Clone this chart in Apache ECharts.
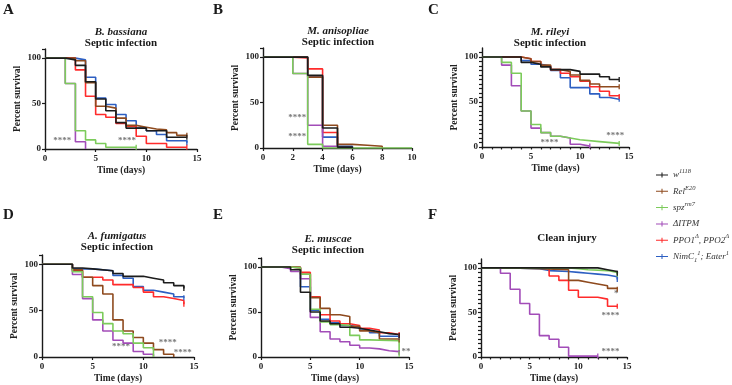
<!DOCTYPE html>
<html><head><meta charset="utf-8">
<script src="https://cdn.jsdelivr.net/npm/echarts@6/dist/echarts.min.js"></script>
<style>html,body{margin:0;padding:0;background:#fff}#c{width:732px;height:385px}</style>
</head><body><div id="c"></div>
<script>
// ---------- legend / series names ----------
const seriesNames = ['w1118', 'RelE20', 'spzrm7', 'ΔITPM', 'PPO1Δ, PPO2Δ', 'NimC1; Eater1'];
const seriesColors = ['#1c1c1c', '#8E4A1E', '#7CCB5B', '#A24CB8', '#FF2B2B', '#2D5FC2'];
const legendLabels = ['{i|w}{sup|1118}', '{i|Rel}{sup|E20}', '{i|spz}{sup|rm7}', '{i|ΔITPM}',
  '{i|PPO1}{sup|Δ}{i|, PPO2}{sup|Δ}', '{i|NimC}{sub|1}{sup|1}{i|; Eater}{sup|1}'];

// ---------- panel titles ----------
const panelLetters = ['A', 'B', 'C', 'D', 'E', 'F'];
const panelSpecies = ['B. bassiana', 'M. anisopliae', 'M. rileyi', 'A. fumigatus', 'E. muscae', ''];
const panelSubtitles = ['Septic infection', 'Septic infection', 'Septic infection', 'Septic infection', 'Septic infection', 'Clean injury'];
const xTickLabelsWide = [0, 5, 10, 15];
const xTickLabelsB = [0, 2, 4, 6, 8, 10];
const yTickLabels = [0, 50, 100];

// ---------- survival data: [day, percent survival] ----------
// A: B. bassiana
const A_w1118 = [[0,100],[2,98],[3,92],[4,74],[5,55],[6,42],[7,29],[8,23],[10,20],[12,13],[14,13]];
const A_rel   = [[0,100],[3,97],[4,73],[5,47],[6,45],[7,34],[8,26],[9,24],[10,22],[11,21],[12,18],[13,15],[14,15]];
const A_spz   = [[0,100],[2,72],[3,20],[4,10],[5,6],[6,2],[9,2]];
const A_itpm  = [[0,100],[2,72],[3,8],[4,0]];
const A_ppo   = [[0,100],[3,87],[4,58],[5,38],[6,35],[7,28],[8,25],[9,14],[10,6],[12,2],[14,2]];
const A_nimc  = [[0,100],[3,98],[4,79],[5,56],[6,49],[7,38],[8,31],[9,23],[10,20],[11,16],[12,9],[14,7]];
// B: M. anisopliae
const B_w1118 = [[0,100],[3,80],[4,22],[5,1],[6,0]];
const B_rel   = [[0,100],[3,78],[4,25],[5,4],[6,3],[7,2],[8,0]];
const B_spz   = [[0,100],[2,82],[3,4],[4,0],[10,0]];
const B_itpm  = [[0,100],[2,82],[3,25],[4,2],[5,0]];
const B_ppo   = [[0,100],[2,99],[3,87],[4,17],[5,0]];
const B_nimc  = [[0,100],[3,79],[4,12],[5,2],[6,0]];
// C: M. rileyi
const C_w1118 = [[0,100],[4,94],[5,92],[6,89],[7,86],[9,84],[10,81],[12,78],[13,75],[14,75]];
const C_rel   = [[0,100],[4,98],[5,95],[6,91],[7,86],[8,84],[9,80],[10,74],[11,70],[12,67],[14,67]];
const C_spz   = [[0,100],[2,94],[3,82],[4,40],[5,25],[6,16],[7,12],[8,10],[9,8],[10,6],[12,4],[14,4]];
const C_itpm  = [[0,100],[2,91],[3,68],[4,40],[5,21],[6,16],[7,12],[8,10],[9,3],[10,1],[11,1]];
const C_ppo   = [[0,100],[4,98],[5,95],[6,90],[7,86],[8,82],[9,78],[10,73],[11,67],[12,62],[13,57],[14,56]];
const C_nimc  = [[0,100],[4,96],[5,92],[6,90],[7,85],[8,77],[9,66],[11,59],[12,55],[13,53],[14,53]];
// D: A. fumigatus
const D_w1118 = [[0,100],[3,96],[4,95],[5,93],[7,90],[8,87],[10,85],[11,83],[12,80],[13,77],[14,74]];
const D_rel   = [[0,100],[3,94],[4,86],[5,77],[6,68],[7,40],[8,28],[9,21],[10,15],[11,8],[12,3],[13,0]];
const D_spz   = [[0,100],[3,92],[4,65],[5,48],[6,36],[7,28],[8,25],[9,15],[10,10],[11,0]];
const D_itpm  = [[0,100],[3,89],[4,63],[5,40],[6,28],[7,18],[8,15],[9,6],[10,3],[11,0]];
const D_ppo   = [[0,100],[3,93],[4,86],[6,83],[7,78],[9,75],[10,70],[11,65],[12,63],[13,61],[14,57]];
const D_nimc  = [[0,100],[3,95],[5,93],[7,88],[8,85],[9,76],[10,72],[11,70],[12,68],[13,65],[14,64]];
// E: E. muscae
const E_w1118 = [[0,100],[3,97],[4,72],[5,50],[6,40],[7,37],[8,33],[9,32],[10,30],[11,28],[12,26],[13,25],[14,24]];
const E_rel   = [[0,100],[4,92],[5,66],[6,54],[7,47],[8,45],[9,34],[10,29],[11,27],[12,20],[14,19]];
const E_spz   = [[0,100],[3,99],[4,92],[5,53],[6,39],[7,36],[8,35],[9,24],[10,19],[11,18],[14,3]];
const E_itpm  = [[0,100],[2,98],[3,95],[4,87],[5,44],[6,28],[7,20],[8,17],[9,13],[10,10],[11,9],[12,7],[13,6],[14,5]];
const E_ppo   = [[0,100],[3,99],[4,94],[5,67],[6,47],[7,40],[8,37],[9,35],[10,32],[11,30],[12,27],[13,25],[14,25]];
const E_nimc  = [[0,100],[3,99],[4,78],[5,52],[6,42],[7,38],[8,35],[9,33],[10,30],[11,27],[12,23],[14,22]];
// F: clean injury
const F_w1118 = [[0,100],[12,98],[13,96],[14,94]];
const F_rel   = [[0,100],[3,99],[6,98],[9,86],[10,84],[11,82],[12,80],[13,77],[14,76]];
const F_spz   = [[0,100],[9,99],[10,98],[11,97],[13,95],[14,93]];
const F_itpm  = [[0,100],[2,94],[3,76],[4,60],[5,48],[6,24],[7,20],[8,11],[9,1],[12,1]];
const F_ppo   = [[0,100],[6,99],[7,91],[8,86],[9,75],[10,67],[12,65],[13,57],[14,57]];
const F_nimc  = [[0,100],[3,99],[6,97],[7,96],[9,95],[10,94],[11,93],[12,92],[13,90],[14,87]];

// ---------- significance annotations: [day, percent, text] ----------
const A_stars = [[1.7, 9, '****'], [8.1, 9, '****']];
const B_stars = [[2.3, 33, '****'], [2.3, 12, '****']];
const C_stars = [[6.9, 5, '****'], [13.6, 13, '****']];
const D_stars = [[7.8, 11, '****'], [12.4, 15, '****'], [13.9, 5, '****']];
const E_stars = [[14.7, 6, '**']];
const F_stars = [[13.9, 71, '*'], [13.3, 46, '****'], [13.3, 6, '****']];

const panelData = [
  [A_w1118, A_rel, A_spz, A_itpm, A_ppo, A_nimc],
  [B_w1118, B_rel, B_spz, B_itpm, B_ppo, B_nimc],
  [C_w1118, C_rel, C_spz, C_itpm, C_ppo, C_nimc],
  [D_w1118, D_rel, D_spz, D_itpm, D_ppo, D_nimc],
  [E_w1118, E_rel, E_spz, E_itpm, E_ppo, E_nimc],
  [F_w1118, F_rel, F_spz, F_itpm, F_ppo, F_nimc]
];
const panelStars = [A_stars, B_stars, C_stars, D_stars, E_stars, F_stars];

// ---------- layout (positions / styles) ----------
const FONT = 'Liberation Serif';
const layout = [
  {grid:{left:45, top:49, width:152, height:100}, xmax:15, xint:5, minor:false, title:[121,32], letter:[3,10]},
  {grid:{left:263, top:48, width:149, height:100}, xmax:10, xint:2, minor:false, title:[338,31], letter:[213,10]},
  {grid:{left:482, top:48, width:147, height:99}, xmax:15, xint:5, minor:true, title:[550,32], letter:[428,10]},
  {grid:{left:42, top:255, width:152, height:102}, xmax:15, xint:5, minor:false, title:[117,236], letter:[3,215]},
  {grid:{left:261, top:258, width:148, height:99}, xmax:15, xint:5, minor:false, title:[328,239], letter:[213,215]},
  {grid:{left:481, top:259, width:146, height:98}, xmax:15, xint:5, minor:true, title:[567,238], letter:[428,215]}
];
const drawOrder = [5, 4, 1, 3, 2, 0];

const grids = [], xAxes = [], yAxes = [], series = [], graphics = [];
const range = (a, b, s) => { const r = []; for (let v = a; v <= b; v += s) r.push(v); return r; };

layout.forEach((L, p) => {
  grids.push(Object.assign({containLabel:false}, L.grid));
  const xLabels = p === 1 ? xTickLabelsB : xTickLabelsWide;
  const axisLineStyle = {color:'#1a1a1a', width:1.4};
  const labelStyle = {fontFamily:FONT, fontWeight:'bold', fontSize:9, color:'#222'};
  const nameStyle = {fontFamily:FONT, fontWeight:'bold', fontSize:9.5, color:'#222'};
  xAxes.push({
    gridIndex:p, type:'value', min:0, max:L.xmax, interval:L.xint,
    axisLine:{show:true, onZero:false, lineStyle:axisLineStyle},
    axisTick:{show:true, length: L.minor ? 2.5 : 3, lineStyle:{color:'#1a1a1a', width:1.2},
      customValues: L.minor ? range(0, L.xmax, 1) : xLabels},
    axisLabel:Object.assign({margin:5, customValues:xLabels}, labelStyle),
    splitLine:{show:false},
    name:'Time (days)', nameLocation:'middle', nameGap:17, nameTextStyle:nameStyle
  });
  yAxes.push({
    gridIndex:p, type:'value', min:0, max:110, interval:50,
    axisLine:{show:true, onZero:false, lineStyle:axisLineStyle},
    axisTick:{show:true, length: 3, lineStyle:{color:'#1a1a1a', width:1.2},
      customValues: L.minor ? range(0, 105, 5) : yTickLabels.concat([110])},
    axisLabel:Object.assign({margin:4, customValues:yTickLabels}, labelStyle),
    splitLine:{show:false},
    name:'Percent survival', nameLocation:'middle', nameGap:22, nameTextStyle:nameStyle
  });
  drawOrder.forEach(k => {
    const arr = panelData[p][k];
    series.push({
      type:'line', name:seriesNames[k], xAxisIndex:p, yAxisIndex:p, step:'end',
      symbol:'none', showSymbol:true,
      data: arr.map((pt, i) => (i === arr.length - 1 && pt[1] > 0)
        ? {value:pt, symbol:'rect', symbolSize:[1.3, 5]} : pt),
      lineStyle:{width:1.6, color:seriesColors[k]},
      itemStyle:{color:seriesColors[k]},
      emphasis:{disabled:true}, silent:true
    });
  });
  series.push({
    type:'scatter', name:'stars', xAxisIndex:p, yAxisIndex:p,
    data:panelStars[p], symbolSize:1, itemStyle:{color:'rgba(0,0,0,0)'},
    label:{show:true, position:'inside', formatter:q => q.value[2],
      fontFamily:FONT, fontSize:9, fontWeight:'bold', color:'#555'},
    silent:true
  });
  // titles
  if (panelSpecies[p]) {
    graphics.push({type:'text', x:L.title[0], y:L.title[1], style:{text:panelSpecies[p], textAlign:'center', textVerticalAlign:'middle',
      font:'italic bold 11px "' + FONT + '"', fill:'#1a1a1a'}});
    graphics.push({type:'text', x:L.title[0], y:L.title[1] + 11, style:{text:panelSubtitles[p], textAlign:'center', textVerticalAlign:'middle',
      font:'bold 11px "' + FONT + '"', fill:'#1a1a1a'}});
  } else {
    graphics.push({type:'text', x:L.title[0], y:L.title[1], style:{text:panelSubtitles[p], textAlign:'center', textVerticalAlign:'middle',
      font:'bold 11px "' + FONT + '"', fill:'#1a1a1a'}});
  }
  graphics.push({type:'text', x:L.letter[0], y:L.letter[1], style:{text:panelLetters[p], textAlign:'left', textVerticalAlign:'middle',
    font:'bold 15px "' + FONT + '"', fill:'#1a1a1a'}});
});

const richBase = {fontFamily:FONT, fontStyle:'italic', color:'#333'};
const chart = echarts.init(document.getElementById('c'), null, {renderer:'canvas'});
chart.setOption({
  animation:false,
  backgroundColor:'#fff',
  grid:grids, xAxis:xAxes, yAxis:yAxes, series:series,
  graphic:graphics,
  legend:{
    data:seriesNames.map((n, k) => ({name:n, icon:'path://M0,4.4 L14,4.4 L14,5.6 L0,5.6 Z M6.4,2 L7.6,2 L7.6,8 L6.4,8 Z', itemStyle:{color:seriesColors[k]}})),
    orient:'vertical', left:656, top:168, itemWidth:12, itemHeight:7, itemGap:2.3, padding:0,
    selectedMode:false,
    formatter:n => legendLabels[seriesNames.indexOf(n)],
    textStyle:{fontFamily:FONT, fontStyle:'italic', fontSize:9, color:'#333', lineHeight:14,
      rich:{
        i:Object.assign({fontSize:9, lineHeight:14}, richBase),
        sup:Object.assign({fontSize:6.5, lineHeight:14, verticalAlign:'top', padding:[0,0,5,0]}, richBase),
        sub:Object.assign({fontSize:6.5, lineHeight:14, verticalAlign:'bottom', padding:[4,0,0,0]}, richBase)
      }}
  }
});
</script></body></html>
